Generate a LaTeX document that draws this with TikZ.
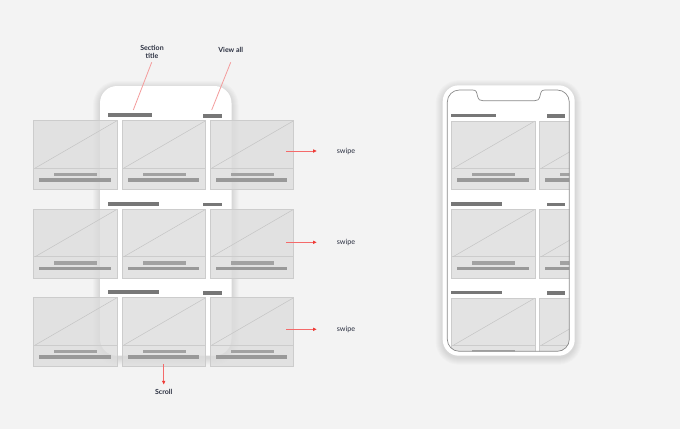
\documentclass[tikz,border=0pt]{standalone}
\usepackage{fontspec}
\setmainfont{Lato}
\usetikzlibrary{arrows.meta}
\definecolor{bgc}{HTML}{F3F3F3}
\definecolor{cardc}{HTML}{DCDCDC}
\definecolor{cardsolid}{HTML}{E3E3E3}
\definecolor{cardline}{HTML}{CCCCCC}
\definecolor{diagc}{HTML}{C4C4C4}
\definecolor{barl}{HTML}{A2A2A2}
\definecolor{bard}{HTML}{999999}
\definecolor{headbar}{HTML}{777777}
\definecolor{redl}{HTML}{F46A6A}
\definecolor{redh}{HTML}{EE3B36}
\definecolor{annl}{HTML}{F49C9C}
\definecolor{txtc}{HTML}{2A2F40}
\definecolor{screenc}{HTML}{8A8A8A}
\tikzset{
  lbl/.style={text=txtc, font=\fontsize{7}{8.4}\selectfont\bfseries, align=center, inner sep=0pt},
  swlbl/.style={text=txtc, font=\fontsize{7.2}{8.4}\selectfont, inner sep=0pt},
  redarrow/.style={draw=redl, line width=1pt, -{Latex[length=4pt,width=3.8pt,color=redh]}},
  annline/.style={draw=annl, line width=0.8pt},
  headbarst/.style={fill=headbar},
}
% card: #1 x, #2 top y, #3 fill style
\newcommand{\wfcard}[3]{%
  \fill[#3] (#1,#2) rectangle ++(83.7,68.6);
  \draw[cardline, line width=0.5pt] (#1,#2+47.3) -- ++(83.7,0);
  \draw[diagc, line width=0.5pt] (#1+2,#2+47.3) -- (#1+83.7,#2);
  \fill[barl] (#1+20.7,#2+52) rectangle ++(43.3,3.3);
  \fill[bard] (#1+6,#2+57.3) rectangle ++(71.4,3.7);
  \draw[cardline, line width=0.6pt] (#1,#2) rectangle ++(83.7,68.6);
}
\newcommand{\phoneshadow}[5]{%
  \foreach \i in {1,...,7}{
    \fill[black, opacity=0.016, rounded corners=#5+\i] (#1-\i,#2-\i+2) rectangle (#3+\i,#4+\i+2);
  }
}
\begin{document}
\begin{tikzpicture}[x=1pt,y=-1pt]
\useasboundingbox (0,0) rectangle (680,429);
\fill[bgc] (0,0) rectangle (680,429);

% ---------- left phone ----------
\phoneshadow{100}{86}{231.5}{355.7}{17}
\fill[white, rounded corners=17] (100,86) rectangle (231.5,355.7);

% section headers
\fill[headbarst] (108,113.3) rectangle ++(44.3,4);
\fill[headbarst] (203,113.5) rectangle ++(19,4);
\fill[headbarst] (108,202) rectangle ++(51,3.6);
\fill[headbarst] (203,202.7) rectangle ++(19,3.6);
\fill[headbarst] (108,290.3) rectangle ++(51,3.8);
\fill[headbarst] (203,291) rectangle ++(19,3.8);

% cards (semi-transparent)
\foreach \yy in {120.7,209.3,297.7}{
  \foreach \xx in {33.3,122,210}{
    \wfcard{\xx}{\yy}{cardc, fill opacity=0.78}
  }
}

% annotations
\node[lbl] (sectitle) at (152,52) {Section\\title};
\node[lbl] (viewall) at (230.7,49.5) {View all};
\coordinate (st1) at (151.7,62.3);
\coordinate (st2) at (133.3,110);
\coordinate (va1) at (230.7,62.3);
\coordinate (va2) at (211.7,110);
\draw[annline] (st1) -- (st2);
\draw[annline] (va1) -- (va2);

% swipe arrows
\node[swlbl] (swipe1) at (346,151) {swipe};
\node[swlbl] (swipe2) at (346,242.3) {swipe};
\node[swlbl] (swipe3) at (346,329.3) {swipe};
\coordinate (s1a) at (286,151);   \coordinate (s1b) at (317,151);
\coordinate (s2a) at (286,242.3); \coordinate (s2b) at (317,242.3);
\coordinate (s3a) at (286,329.3); \coordinate (s3b) at (317,329.3);
\draw[redarrow] (s1a) -- (s1b);
\draw[redarrow] (s2a) -- (s2b);
\draw[redarrow] (s3a) -- (s3b);

% scroll arrow
\node[lbl] (scroll) at (163.7,391.7) {Scroll};
\coordinate (sca) at (163.7,364.3);
\coordinate (scb) at (163.7,384.8);
\draw[redarrow] (sca) -- (scb);

% ---------- right phone ----------
\phoneshadow{442.7}{85.3}{574.7}{355.7}{16}
\fill[white, rounded corners=16] (442.7,85.3) rectangle (574.7,355.7);

\def\screenpath{
  (447.3,102) .. controls (447.3,95.4) and (452.7,90) .. (459.3,90)
  -- (472.5,90) .. controls (476.5,90) and (476.5,92) .. (477.5,96)
  .. controls (478.5,100) and (480,100.7) .. (483,100.7)
  -- (534.5,100.7) .. controls (537.5,100.7) and (539,100) .. (540,96)
  .. controls (541,92) and (541,90) .. (545,90)
  -- (557.3,90) .. controls (563.9,90) and (569.3,95.4) .. (569.3,102)
  -- (569.3,339.3) .. controls (569.3,345.9) and (563.9,351.3) .. (557.3,351.3)
  -- (459.3,351.3) .. controls (452.7,351.3) and (447.3,345.9) .. (447.3,339.3)
  -- cycle}
\begin{scope}
  \clip \screenpath;
  \fill[headbarst] (451.3,113.7) rectangle ++(44.4,3.6);
  \fill[headbarst] (546.7,114.3) rectangle ++(18.6,3.6);
  \fill[headbarst] (451.3,202) rectangle ++(51,3.7);
  \fill[headbarst] (546.7,202.7) rectangle ++(18.6,3.6);
  \fill[headbarst] (451.3,290.7) rectangle ++(51,3.5);
  \fill[headbarst] (546.7,291) rectangle ++(18.6,3.7);
  \foreach \yy in {121,209.3,298}{
    \foreach \xx in {451.3,539.3}{
      \wfcard{\xx}{\yy}{cardsolid}
    }
  }
\end{scope}
\draw[screenc, line width=0.7pt] \screenpath;
\end{tikzpicture}
\end{document}
